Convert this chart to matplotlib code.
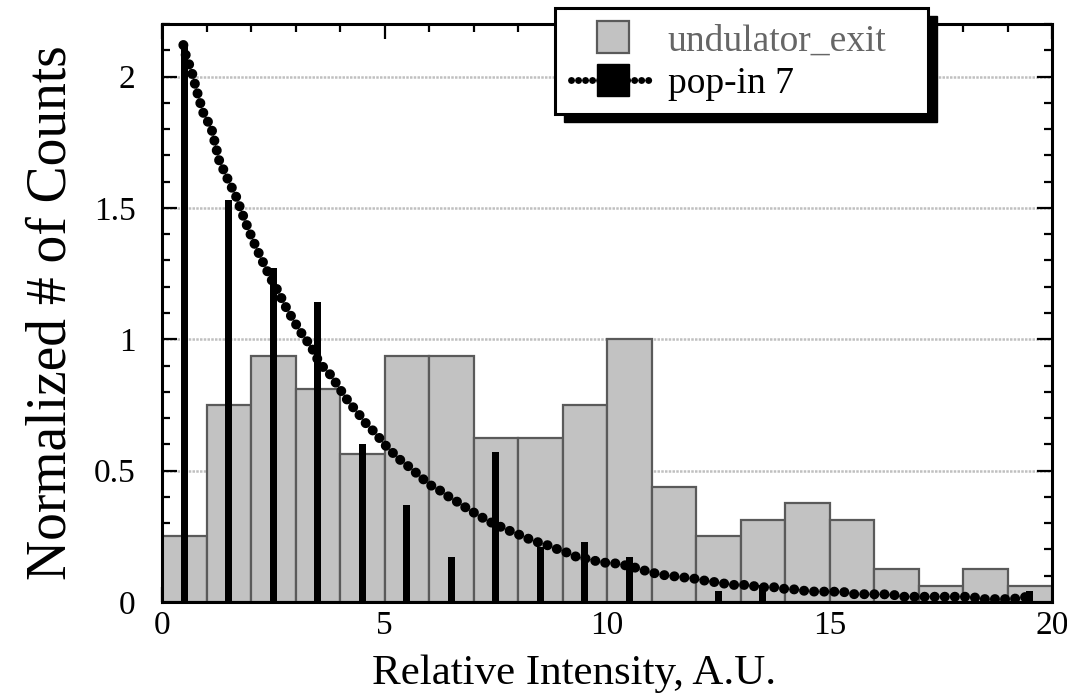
import numpy as np
import matplotlib
matplotlib.use('Agg')
from matplotlib import pyplot as plt
from matplotlib.patches import Rectangle
from matplotlib.lines import Line2D
from matplotlib.ticker import MultipleLocator, FuncFormatter

plt.rcParams['font.family'] = ['Liberation Serif', 'DejaVu Serif']

# histogram of undulator_exit (bins of width 1 from 0 to 20)
bin_left = np.arange(0, 20)
exit_counts = [0.25, 0.75, 0.9375, 0.8125, 0.5625, 0.9375, 0.9375, 0.625, 0.625, 0.75,
               1.0, 0.4375, 0.25, 0.3125, 0.375, 0.3125, 0.125, 0.0625, 0.125, 0.0625]

# pop-in 7 histogram (bar centres)
popin_x = [0.5, 1.5, 2.5, 3.5, 4.5, 5.5, 6.5, 7.5, 8.5, 9.5,
           10.5, 11.5, 12.5, 13.5, 14.5, 15.5, 16.5, 17.5, 18.5, 19.5]
popin_counts = [2.12, 1.53, 1.27, 1.14, 0.6, 0.37, 0.17, 0.57, 0.21, 0.23,
                0.17, 0.0, 0.042, 0.065, 0.0, 0.0, 0.0, 0.0, 0.0, 0.042]

# pop-in 7 fit curve
curve_x = [0.48, 0.55, 0.65, 0.75, 0.85, 0.95, 1.1, 1.2, 1.3, 1.4, 1.5, 1.65, 1.8, 1.95,
           2.1, 2.25, 2.45, 2.6, 2.8, 3.0, 3.2, 3.35, 3.45, 3.6, 3.8, 4.0, 4.2, 4.4, 4.6,
           4.8, 5.0, 5.3, 5.6, 5.8, 6.0, 6.25, 6.5, 6.7, 6.9, 7.1, 7.3, 7.5, 7.75, 8.0,
           8.2, 8.4, 8.65, 8.9, 9.1, 9.3, 9.5, 9.7, 9.9, 10.15, 10.4, 10.55, 10.8, 11.0,
           11.25, 11.5, 11.8, 12.1, 12.3, 12.5, 12.75, 13.2, 13.4, 13.8, 14.05, 14.3,
           14.5, 15.3, 15.5, 16.4, 16.6, 18.2, 18.4, 19.1, 19.25, 19.45]
curve_y = [2.12, 2.07, 2.03, 1.965, 1.905, 1.85, 1.81, 1.74, 1.67, 1.64, 1.60, 1.55, 1.48, 1.415,
           1.355, 1.30, 1.23, 1.185, 1.117, 1.06, 1.005, 0.975, 0.936, 0.898, 0.862, 0.81, 0.76, 0.72, 0.676,
           0.642, 0.60, 0.548, 0.508, 0.478, 0.448, 0.424, 0.394, 0.375, 0.35, 0.332, 0.31, 0.295, 0.275, 0.258,
           0.243, 0.23, 0.217, 0.2, 0.188, 0.173, 0.166, 0.158, 0.15, 0.148, 0.14, 0.135, 0.122, 0.112,
           0.103, 0.098, 0.092, 0.086, 0.076, 0.076, 0.065, 0.065, 0.056, 0.056, 0.048, 0.048,
           0.04, 0.039, 0.03, 0.029, 0.02, 0.02, 0.011, 0.011, 0.015, 0.02]

dot_style = (0, (0.01, 1.0))
W, H = 1067, 694

fig = plt.figure(figsize=(W / 100, H / 100), dpi=100)
ax = fig.add_axes([162 / W, 1 - 602 / H, 890 / W, 578 / H])

ax.yaxis.grid(True, color='#c0c0c0', linestyle=(0, (1, 0.5)), linewidth=1.8, zorder=0)
ax.set_axisbelow(True)

ax.bar(bin_left, exit_counts, width=1, align='edge', color='#c2c2c2',
       edgecolor='#5a5a5a', linewidth=1.6, zorder=2)
ax.bar(popin_x, popin_counts, width=0.15, color='black', linewidth=0, zorder=3)
ax.plot(curve_x, curve_y, color='black', linewidth=7.2, linestyle=dot_style,
        dash_capstyle='round', zorder=4)

ax.set_xlim(0, 20)
ax.set_ylim(0, 2.2)
ax.xaxis.set_major_locator(MultipleLocator(5))
ax.xaxis.set_minor_locator(MultipleLocator(1))
ax.yaxis.set_major_locator(MultipleLocator(0.5))
ax.yaxis.set_minor_locator(MultipleLocator(0.1))
ax.yaxis.set_major_formatter(FuncFormatter(lambda v, p: '%g' % v))

ax.tick_params(which='both', direction='in', top=True, right=True, width=1.6,
               labelsize=24, color='black')
ax.tick_params(which='major', length=11)
ax.tick_params(which='minor', length=6)
ax.tick_params(axis='y', pad=19)
ax.tick_params(axis='x', pad=6)
for s in ax.spines.values():
    s.set_linewidth(2.2)
    s.set_zorder(5)

ax.set_xlabel('Relative Intensity, A.U.', fontsize=31)
ax.xaxis.set_label_coords((574 - 162) / 890, -(684 - 602) / 578, transform=ax.transAxes)
ax.xaxis.label.set_va('baseline')
ax.set_ylabel('Normalized # of Counts', fontsize=40, labelpad=12)

# legend frame with a solid drop shadow
bx0, by0, bx1, by1 = 555, 8, 928, 114
fig.patches.append(Rectangle(((bx0 + 9) / W, 1 - (by1 + 8) / H), (bx1 - bx0) / W, (by1 - by0) / H,
                             transform=fig.transFigure, facecolor='black', edgecolor='black',
                             zorder=6))
fig.patches.append(Rectangle((bx0 / W, 1 - by1 / H), (bx1 - bx0) / W, (by1 - by0) / H,
                             transform=fig.transFigure, facecolor='white', edgecolor='black',
                             linewidth=2.2, zorder=7))

handles = [Line2D([], [], linestyle='none', marker='s', markersize=23,
                  markerfacecolor='#c2c2c2', markeredgecolor='#5a5a5a', markeredgewidth=1.6),
           Line2D([], [], color='black', linewidth=5, linestyle=dot_style, dash_capstyle='round',
                  marker='s', markersize=23, markerfacecolor='black')]
leg = fig.legend(handles, ['undulator_exit', 'pop-in 7'], loc='upper left',
                 bbox_to_anchor=(bx0 / W, 1 - by0 / H), bbox_transform=fig.transFigure,
                 borderaxespad=0, fontsize=27, numpoints=1, frameon=False,
                 handlelength=2.25, handletextpad=0.33, labelspacing=0.22,
                 borderpad=0.42, labelcolor=['#666666', 'black'])
leg.set_zorder(8)

fig.savefig('out.png', dpi=100)
